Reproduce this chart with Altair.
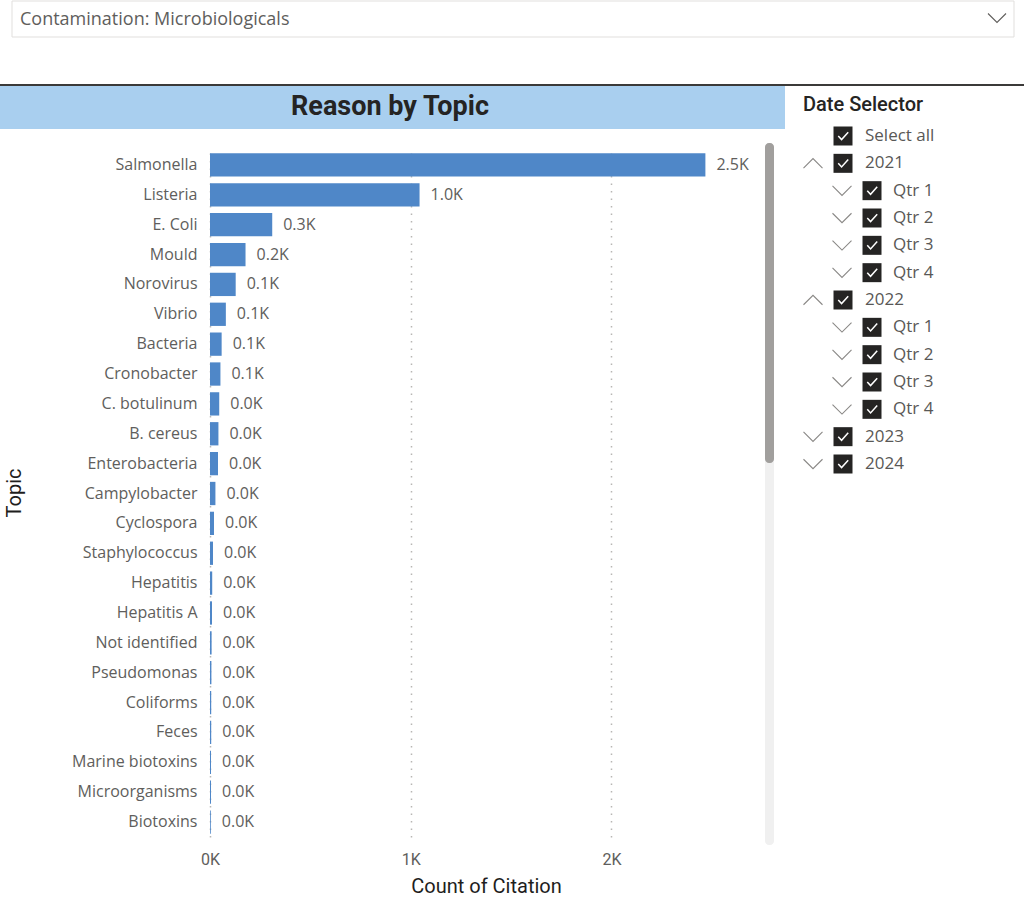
import altair as alt
import pandas as pd

# ---------------- data ----------------
topics = ["Salmonella", "Listeria", "E. Coli", "Mould", "Norovirus", "Vibrio",
          "Bacteria", "Cronobacter", "C. botulinum", "B. cereus", "Enterobacteria",
          "Campylobacter", "Cyclospora", "Staphylococcus", "Hepatitis", "Hepatitis A",
          "Not identified", "Pseudomonas", "Coliforms", "Feces", "Marine biotoxins",
          "Microorganisms", "Biotoxins"]
counts = [2468, 1044, 310, 177, 128, 79, 58, 52, 46, 42, 40, 27, 20, 15, 11, 10,
          8, 7, 6, 6, 5, 5, 4]
x_ticks = [0, 1000, 2000]

slicer_labels = ["Select all", "2021", "Qtr 1", "Qtr 2", "Qtr 3", "Qtr 4",
                 "2022", "Qtr 1", "Qtr 2", "Qtr 3", "Qtr 4", "2023", "2024"]
slicer_levels = [0, 0, 1, 1, 1, 1, 0, 1, 1, 1, 1, 0, 0]
slicer_chevron = ["none", "up", "down", "down", "down", "down",
                  "up", "down", "down", "down", "down", "down", "down"]

filter_text = "Contamination: Microbiologicals"
chart_title = "Reason by Topic"
slicer_title = "Date Selector"

# ---------------- layout ----------------
W, H = 552, 687
PAD = {"left": 210, "top": 150, "right": 1024 - 210 - W, "bottom": 914 - 150 - H}

SEG = "Segoe UI, Open Sans, sans-serif"
DIN = "DIN, Roboto, sans-serif"
DARK = "#252423"
GRAY = "#605E5C"

one = pd.DataFrame({"k": [0]})

# ---------------- bar chart ----------------
bars_df = pd.DataFrame({"Topic": topics, "Count": counts})
base = alt.Chart(bars_df).transform_calculate(
    label="format(datum.Count / 1000, '.1f') + 'K'")

xscale = alt.Scale(domain=[0, 2750], nice=False)
yscale = alt.Scale(paddingInner=0.22, paddingOuter=0.11)

xenc = alt.X("Count:Q", scale=xscale,
             axis=alt.Axis(values=x_ticks, labelExpr="datum.value / 1000 + 'K'",
                           labelFlush=False,
                           title="Count of Citation", titleFont=DIN, titleFontSize=20,
                           titleFontWeight="normal", titleColor="#1F1E1D", titlePadding=9,
                           labelFont=DIN, labelFontSize=16, labelColor=GRAY,
                           labelPadding=14, domain=False, ticks=False, grid=True,
                           gridColor="#B8B6B4", gridDash=[1.5, 6], gridWidth=1.5))
yenc = alt.Y("Topic:N", sort=topics, scale=yscale,
             axis=alt.Axis(title=None, domain=False, ticks=False, grid=False,
                           labelPadding=13, labelFont=SEG, labelFontSize=16,
                           labelColor=GRAY, labelLimit=300))

bars = base.mark_bar(color="#4F87C8").encode(x=xenc, y=yenc)
bar_labels = base.mark_text(align="left", baseline="middle", dx=11, font=SEG,
                            fontSize=16, color=GRAY).encode(x=xenc, y=yenc, text="label:N")
bar_group = alt.layer(bars, bar_labels)

# ---------------- decorations ----------------
dd_box = alt.Chart(one).mark_rect(fill="white", stroke="#E1DFDD", strokeWidth=1).encode(
    x=alt.value(-198), x2=alt.value(804), y=alt.value(-149), y2=alt.value(-113))
dd_text = alt.Chart(one).mark_text(text=filter_text, align="left", baseline="middle",
                                   font=SEG, fontSize=18, color=GRAY).encode(
    x=alt.value(-190), y=alt.value(-130))
dd_chev = alt.Chart(one).mark_point(shape="M-1,-0.5L0,0.5L1,-0.5", filled=False,
                                    size=324, color=GRAY, strokeWidth=1.1, opacity=1).encode(
    x=alt.value(787), y=alt.value(-132))
sep_rule = alt.Chart(one).mark_rule(color="#3B3A39", strokeWidth=2).encode(
    x=alt.value(-210), x2=alt.value(814), y=alt.value(-65))
title_band = alt.Chart(one).mark_rect(fill="#A9CFEF").encode(
    x=alt.value(-210), x2=alt.value(575), y=alt.value(-64), y2=alt.value(-21))
title_text = alt.Chart(one).mark_text(text=chart_title, align="center", baseline="middle",
                                      font=DIN, fontSize=27, fontWeight="bold",
                                      color=DARK).encode(x=alt.value(180), y=alt.value(-43))
topic_title = alt.Chart(one).mark_text(text="Topic", angle=270, align="center",
                                       baseline="middle", font=DIN, fontSize=20,
                                       fontWeight="normal", color="#1F1E1D").encode(
    x=alt.value(-195), y=alt.value(343))
scroll_track = alt.Chart(one).mark_rect(fill="#F0F0F0", cornerRadius=4).encode(
    x=alt.value(555), x2=alt.value(564), y=alt.value(-7), y2=alt.value(695))
scroll_thumb = alt.Chart(one).mark_rect(fill="#A19F9D", cornerRadius=4).encode(
    x=alt.value(555), x2=alt.value(564), y=alt.value(-7), y2=alt.value(313))
slicer_head = alt.Chart(one).mark_text(text=slicer_title, align="left", baseline="middle",
                                       font=DIN, fontSize=20, fontWeight=500,
                                       color=DARK).encode(x=alt.value(593), y=alt.value(-45))

# ---------------- slicer ----------------
sl_df = pd.DataFrame({"label": slicer_labels, "level": slicer_levels,
                      "chev": slicer_chevron, "row": list(range(len(slicer_labels)))})
sl = alt.Chart(sl_df)
row_y = alt.Y("row:Q", scale=alt.Scale(domain=[0, 12], range=[-14, 314], nice=False,
                                       zero=False), axis=None)

def lvl_x(r0, r1):
    return alt.X("level:Q", scale=alt.Scale(domain=[0, 1], range=[r0, r1], nice=False,
                                             zero=False), axis=None)

chev_down = sl.transform_filter("datum.chev == 'down'").mark_point(
    shape="M-1,-0.5L0,0.5L1,-0.5", filled=False, size=361, color="#8A8886",
    strokeWidth=1.1, opacity=1).encode(x=lvl_x(603, 632), y=row_y)
chev_up = sl.transform_filter("datum.chev == 'up'").mark_point(
    shape="M-1,0.5L0,-0.5L1,0.5", filled=False, size=361, color="#8A8886",
    strokeWidth=1.1, opacity=1).encode(x=lvl_x(603, 632), y=row_y)
boxes = sl.mark_square(size=361, color=DARK, opacity=1).encode(x=lvl_x(633, 662), y=row_y)
checks = sl.mark_point(shape="M-0.5,0L-0.15,0.38L0.55,-0.4", filled=False, size=361,
                       color="white", strokeWidth=1.5, opacity=1).encode(
    x=lvl_x(633, 662), y=row_y)
sl_text = sl.mark_text(align="left", baseline="middle", font=SEG, fontSize=17,
                       color="#595856").encode(x=lvl_x(655, 683), y=row_y, text="label:N")

chart = alt.layer(
    dd_box, dd_text, dd_chev, sep_rule, title_band, title_text, topic_title,
    scroll_track, scroll_thumb, bar_group, slicer_head,
    chev_down, chev_up, boxes, checks, sl_text,
).resolve_scale(x="independent", y="independent").properties(
    width=W, height=H, padding=PAD, autosize=alt.AutoSizeParams(type="none"),
    background="white",
).configure_view(stroke=None)

chart.save("out.html", embed_options={"renderer": "svg", "actions": False})
